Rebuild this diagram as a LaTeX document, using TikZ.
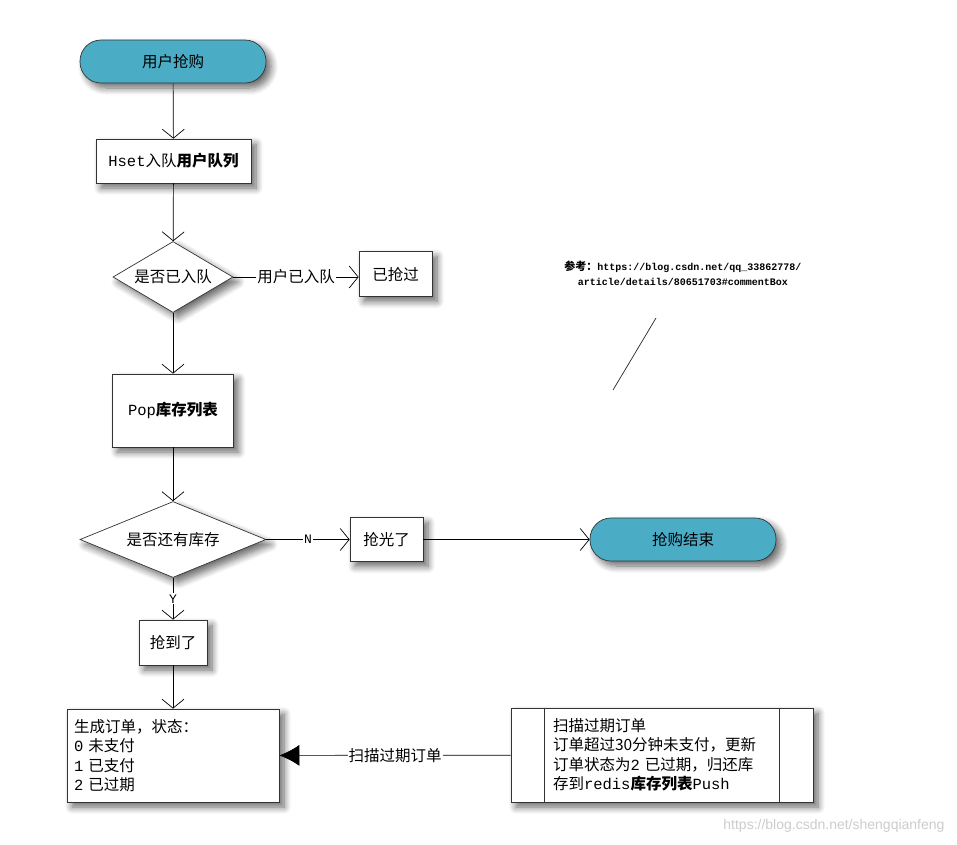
\documentclass[tikz,border=0pt]{standalone}
\usepackage{fontspec}
\setmainfont{Noto Sans CJK SC}
\newfontfamily\monof{Liberation Mono}
\newfontfamily\latinf{Liberation Sans}
\usetikzlibrary{shapes.geometric,arrows.meta,shadows.blur}
\definecolor{termc}{RGB}{75,172,198}
\begin{document}
\begin{tikzpicture}[x=1pt,y=-1pt,
  every node/.style={font=\fontsize{15.5}{19.5}\selectfont},
  base/.style={draw=black!80, line width=0.7pt, fill=white,
    blur shadow={shadow blur steps=8, shadow blur radius=7pt, shadow xshift=5pt, shadow yshift=-5pt, shadow opacity=60}},
  box/.style={base, rectangle, inner sep=0pt},
  term/.style={base, fill=termc, rounded corners=21pt, minimum width=186pt, minimum height=43pt},
  dec/.style={base, diamond, inner sep=0pt},
  arr/.style={draw=black, line width=0.7pt, -{Straight Barb[length=9pt,width=22pt]}},
  lbl/.style={fill=white, inner sep=1pt},
  yn/.style={fill=white, inner sep=1pt, font=\monof\fontsize{13}{14}\selectfont},
]
\useasboundingbox (0,0) rectangle (957,844);

\node[term] (start) at (173,61.5) {用户抢购};
\node[box, minimum width=155pt, minimum height=44pt] (hset) at (173.5,161) {{\monof Hset}入队\textbf{用户队列}};
\node[dec, minimum width=120pt, minimum height=71pt, aspect=1.7] (d1) at (173,277) {是否已入队};
\node[box, minimum width=73pt, minimum height=45pt] (ygq) at (395.5,274) {已抢过};
\node[box, minimum width=121pt, minimum height=73pt] (pop) at (173,410.5) {{\monof Pop}\textbf{库存列表}};
\node[dec, minimum width=186pt, minimum height=76pt, aspect=2.45] (d2) at (173,539.5) {是否还有库存};
\node[box, minimum width=73pt, minimum height=44pt] (qgl) at (386.5,539.5) {抢光了};
\node[term] (end) at (683,539.5) {抢购结束};
\node[box, minimum width=68pt, minimum height=45pt] (qdl) at (173,642.5) {抢到了};
\node[box, minimum width=212pt, minimum height=93pt, text width=198pt, align=left, inner sep=7pt] (order) at (173,755.5)
  {生成订单，状态：\\{\monof 0} 未支付\\{\monof 1} 已支付\\{\monof 2} 已过期};
\node[box, minimum width=302pt, minimum height=94pt, text width=218pt, align=left] (scan) at (662,755)
  {扫描过期订单\\订单超过30分钟未支付，更新\\订单状态为{\monof 2} 已过期，归还库\\存到{\monof redis}\textbf{库存列表}{\monof Push}};
\draw[line width=0.7pt, draw=black!80] ([xshift=34pt]scan.north west) -- ([xshift=34pt]scan.south west);
\draw[line width=0.7pt, draw=black!80] ([xshift=-34pt]scan.north east) -- ([xshift=-34pt]scan.south east);

\draw[arr] (start) -- (hset);
\draw[arr] (hset) -- (d1);
\draw[arr] (d1.east) -- node[lbl]{用户已入队} (d1.east -| ygq.west);
\draw[arr] (d1) -- (pop);
\draw[arr] (pop) -- (d2);
\draw[arr] (d2) -- node[yn]{N} (qgl);
\draw[arr] (qgl) -- (end);
\draw[arr] (d2) -- node[yn]{Y} (qdl);
\draw[arr] (qdl) -- (order);
\draw[line width=0.7pt, -{Latex[length=20pt,width=21pt]}] (scan) -- node[lbl]{扫描过期订单} (order);

\coordinate (da) at (613,390);
\coordinate (db) at (656,318);
\draw[line width=0.7pt, draw=black!85] (da) -- (db);

\node[align=center, font=\fontsize{10}{15}\selectfont] (ref) at (683,273)
  {{\fontsize{11}{15}\selectfont\textbf{参考：}}{\monof\bfseries https://blog.csdn.net/qq\_33862778/}\\{\monof\bfseries article/details/80651703\#commentBox}};

\node[anchor=east, text=gray!40, font=\latinf\fontsize{14}{16}\selectfont] (wm) at (948,826) {https://blog.csdn.net/shengqianfeng};
\end{tikzpicture}
\end{document}
